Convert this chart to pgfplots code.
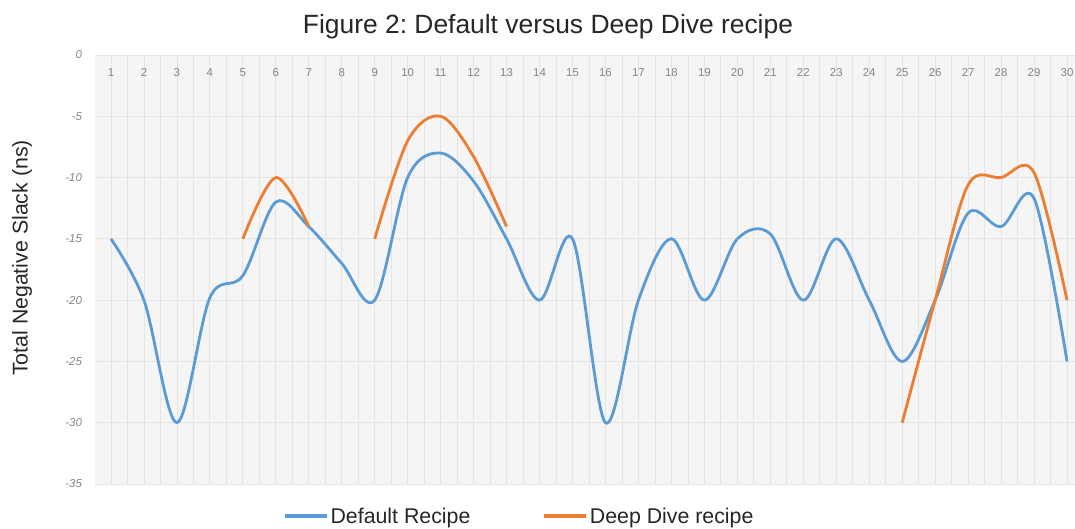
\documentclass[border=0pt]{standalone}
\usepackage{fontspec}
\setmainfont{Liberation Sans}
\usepackage{pgfplots}
\pgfplotsset{compat=1.18}
\definecolor{defblue}{HTML}{5B9BD5}
\definecolor{deeporange}{HTML}{ED7D31}
\definecolor{tickgray}{HTML}{858585}
\definecolor{gridgray}{HTML}{E4E4E4}
\definecolor{bggray}{HTML}{F5F5F5}
\begin{document}
\frenchspacing
\begin{tikzpicture}
\useasboundingbox (0,0) rectangle (1075bp,529bp);
\clip (0,0) rectangle (1075bp,529bp);
\begin{axis}[
  at={(94.5bp,45bp)}, anchor=south west,
  scale only axis, width=989bp, height=429bp,
  xmin=0.5, xmax=30.5, ymin=-35, ymax=0,
  axis background/.style={fill=bggray},
  axis line style={draw=none},
  xtick={1,...,30}, minor x tick num=1,
  ytick={0,-5,...,-35},
  major tick length=0pt, minor tick length=0pt,
  xmajorgrids, xminorgrids, ymajorgrids,
  grid style={gridgray, line width=0.8bp},
  minor grid style={gridgray, line width=0.8bp},
  xticklabel pos=upper,
  xticklabel style={anchor=center, yshift=-18bp, font=\fontsize{11.5}{11.5}\selectfont, text=tickgray},
  yticklabel style={xshift=-9bp, font=\fontsize{11.5}{11.5}\selectfont\itshape, text=tickgray},
  /pgf/number format/assume math mode=true,
  legend columns=2,
  legend style={at={(0.4295,-0.075)}, anchor=center, draw=none, fill=none,
    font=\fontsize{21.4}{21.4}\selectfont, text=black!85,
    /tikz/every even column/.append style={column sep=70bp},
    inner sep=0pt},
  legend image code/.code={\draw[#1, line width=3.5bp] (0bp,0bp) -- (42bp,0bp);},
]
\addplot[defblue, line width=2.8bp, smooth, tension=0.55] coordinates {
(1,-15) (2,-20) (3,-30) (4,-19.8) (5,-18) (6,-12) (7,-14) (8,-17) (9,-20)
(10,-10) (11,-8) (12,-10.3) (13,-15) (14,-20) (15,-15) (16,-30) (17,-20)
(18,-15) (19,-20) (20,-15) (21,-14.6) (22,-20) (23,-15) (24,-20) (25,-25)
(26,-20) (27,-12.9) (28,-14) (29,-11.7) (30,-25)
};
\addlegendentry{Default Recipe}
\addplot[deeporange, line width=2.8bp, smooth, tension=0.55] coordinates {
(5,-15) (6,-10) (7,-14)
};
\addlegendentry{Deep Dive recipe}
\addplot[deeporange, line width=2.8bp, smooth, tension=0.55, forget plot] coordinates {
(9,-15) (10,-7) (11,-5) (12,-8.3) (13,-14)
};
\addplot[deeporange, line width=2.8bp, smooth, tension=0.55, forget plot] coordinates {
(25,-30) (26,-20) (27,-10.6) (28,-10) (29,-9.6) (30,-20)
};
\end{axis}
\node[font=\fontsize{26.5}{26.5}\selectfont, text=black!85] at (548bp,502bp) {Figure 2: Default versus Deep Dive recipe};
\node[font=\fontsize{21.4}{21.4}\selectfont, text=black!85, rotate=90] at (22bp,271bp) {Total Negative Slack (ns)};
\end{tikzpicture}
\end{document}
